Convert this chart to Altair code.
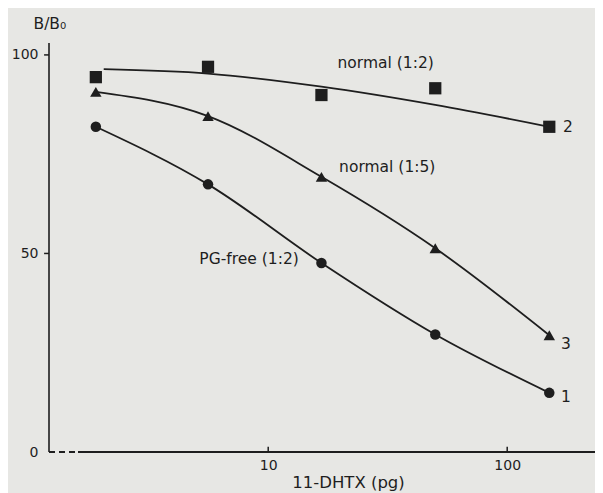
import altair as alt
import pandas as pd

# ---- data ----
doses = [1.9, 5.6, 16.7, 50, 150]
normal_12 = [94.4, 97.0, 89.9, 91.6, 81.9]      # squares, curve 2
normal_15 = [90.7, 84.6, 69.3, 51.3, 29.4]      # triangles, curve 3
pg_free_12 = [81.9, 67.4, 47.6, 29.6, 14.9]     # circles, curve 1

# fitted curve for the squares
fit2_x = [2.05, 5.6, 16.7, 50, 150]
fit2_y = [96.4, 95.3, 92.0, 87.4, 81.9]

label_text = ["normal (1:2)", "normal (1:5)", "PG-free (1:2)", "2", "3", "1"]
label_x = [19.5, 19.8, 5.15, 171, 168, 168]
label_y = [98.0, 71.8, 48.5, 81.8, 27.1, 13.8]

x_ticks = [10, 100]
y_ticks = [0, 50, 100]
y_tick_marks = [50, 100]

x_min, x_max = 1.21, 233
y_top = 103
axis_dash_x = [x_min, 1.60]
axis_solid_x = [1.60, x_max]

INK = "#1e1e1e"
BG = "#e7e7e4"
FONT = "DejaVu Sans"

xscale = alt.Scale(type="log", domain=[x_min, x_max], nice=False)
yscale = alt.Scale(domain=[0, y_top], nice=False, zero=False)

pts = pd.DataFrame({
    "x": doses * 3,
    "y": normal_12 + normal_15 + pg_free_12,
    "s": ["sq"] * 5 + ["tri"] * 5 + ["cir"] * 5,
})
curve2 = pd.DataFrame({"x": fit2_x, "y": fit2_y})
curve3 = pd.DataFrame({"x": doses, "y": normal_15})
curve1 = pd.DataFrame({"x": doses, "y": pg_free_12})
labels = pd.DataFrame({"t": label_text, "x": label_x, "y": label_y})
segs = pd.DataFrame({
    "x": [axis_dash_x[0], axis_solid_x[0]],
    "x2": [axis_dash_x[1], axis_solid_x[1]],
    "y": [0, 0],
    "kind": ["dash", "solid"],
})
xticks_df = pd.DataFrame({"x": x_ticks, "y": [0, 0], "y2": [1.3, 1.3]})
yaxis_df = pd.DataFrame({"x": [x_min], "y": [0], "y2": [y_top]})
yticks_df = pd.DataFrame({"x": [1.154] * 2, "x2": [x_min] * 2, "y": y_tick_marks})

X = alt.X("x:Q", scale=xscale,
          axis=alt.Axis(values=x_ticks, format="d", tickSize=0, ticks=False,
                        domain=False, grid=False, labelPadding=6,
                        labelFontSize=14, labelFont=FONT, labelColor=INK,
                        title="11-DHTX (pg)", titleFont=FONT, titleFontSize=16.5,
                        titleFontWeight="normal", titleColor=INK,
                        titleX=299, titleY=35, titleBaseline="alphabetic",
                        titleAnchor="start", titleAlign="center"))
Y = alt.Y("y:Q", scale=yscale,
          axis=alt.Axis(values=y_ticks, ticks=False, domain=False, grid=False,
                        labelPadding=11, labelFontSize=14, labelFont=FONT,
                        labelColor=INK,
                        title="B/B₀", titleAngle=0, titleAlign="left",
                        titleBaseline="middle", titleX=-16, titleY=-20,
                        titleFont=FONT, titleFontSize=15.5,
                        titleFontWeight="normal", titleColor=INK))

def xs():
    return alt.X("x:Q", scale=xscale)

def ys():
    return alt.Y("y:Q", scale=yscale)

def line(df):
    return alt.Chart(df).mark_line(color=INK, strokeWidth=1.8,
                                   interpolate="monotone").encode(x=xs(), y=ys())

base_axes = alt.Chart(curve2).mark_line(color=INK, strokeWidth=1.8,
                                        interpolate="monotone").encode(x=X, y=Y)

markers = alt.Chart(pts).mark_point(filled=True, opacity=1, color=INK).encode(
    x=xs(), y=ys(),
    shape=alt.Shape("s:N", scale=alt.Scale(domain=["sq", "tri", "cir"],
                                           range=["square", "triangle-up", "circle"]),
                    legend=None),
    size=alt.Size("s:N", scale=alt.Scale(domain=["sq", "tri", "cir"],
                                         range=[150, 110, 150]),
                  legend=None),
)

texts = alt.Chart(labels).mark_text(align="left", baseline="middle",
                                    font=FONT, fontSize=15.5, color=INK).encode(
    x=xs(), y=ys(), text="t:N")

axis_line = alt.Chart(segs).mark_rule(color=INK, strokeWidth=1.8).encode(
    x=xs(), x2="x2:Q", y=ys(),
    strokeDash=alt.StrokeDash("kind:N",
                              scale=alt.Scale(domain=["dash", "solid"],
                                              range=[[6, 4], [1, 0]]),
                              legend=None),
)

x_tick_marks = alt.Chart(xticks_df).mark_rule(color=INK, strokeWidth=1.5).encode(
    x=xs(), y=ys(), y2="y2:Q")

y_axis_line = alt.Chart(yaxis_df).mark_rule(color=INK, strokeWidth=1.6).encode(
    x=xs(), y=ys(), y2="y2:Q")

y_tick_lines = alt.Chart(yticks_df).mark_rule(color=INK, strokeWidth=1.5).encode(
    x=xs(), x2="x2:Q", y=ys())

chart = alt.layer(
    base_axes, line(curve3), line(curve1), axis_line, x_tick_marks,
    y_axis_line, y_tick_lines, markers, texts
).properties(
    width=546, height=409,
    autosize=alt.AutoSizeParams(type="none"),
    padding={"left": 41, "top": 35, "right": 0, "bottom": 41},
    background=BG,
).configure_view(stroke=None)

chart.save("out.html", embed_options={"renderer": "svg", "actions": False})
